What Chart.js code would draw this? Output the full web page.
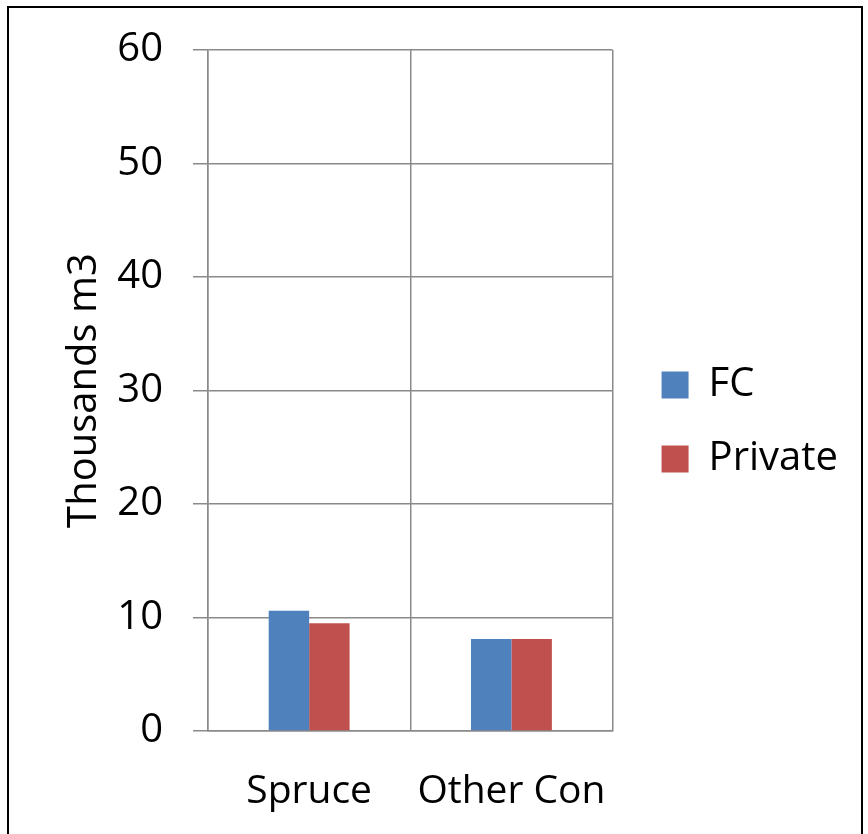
<!DOCTYPE html>
<html>
<head>
<meta charset="utf-8">
<script src="https://cdn.jsdelivr.net/npm/chart.js@4/dist/chart.umd.min.js"></script>
<style>
  html, body { margin: 0; padding: 0; background: #ffffff; overflow: hidden; }
  #frame {
    position: absolute; left: 7px; top: 6px;
    width: 852px; height: 828px;
    border: 2px solid #000000; border-bottom: none;
    background: #ffffff;
  }
  #chart { display: block; }
</style>
</head>
<body>
<div id="frame"><canvas id="chart" width="852" height="828"></canvas></div>
<script>
// Harvest volumes by species group and owner
const categories = ['Spruce', 'Other Con'];
const fcValues = [10.6, 8.1];
const privateValues = [9.5, 8.1];
const seriesNames = ['FC', 'Private'];
const yTicks = [0, 10, 20, 30, 40, 50, 60];
const yTitle = 'Thousands m3';

const FONT = "'Open Sans', 'Liberation Sans', sans-serif";
const GRID = '#8a8a8a';

// empty scales used only to reserve space around the plot area
const spacer = (position, size) => ({
  type: 'linear',
  position: position,
  display: true,
  grid: { display: false },
  border: { display: false },
  ticks: { display: false },
  afterFit: s => {
    if (position === 'top') { s.height = size; } else { s.width = size; }
  }
});

new Chart(document.getElementById('chart'), {
  type: 'bar',
  data: {
    labels: categories,
    datasets: [
      { label: seriesNames[0], data: fcValues, backgroundColor: '#4F81BD', borderWidth: 0 },
      { label: seriesNames[1], data: privateValues, backgroundColor: '#C0504D', borderWidth: 0 }
    ]
  },
  options: {
    responsive: false,
    animation: false,
    layout: { padding: { top: 0, bottom: 0, left: 0, right: 13 } },
    datasets: { bar: { categoryPercentage: 0.4, barPercentage: 1.0 } },
    plugins: {
      tooltip: { enabled: false },
      legend: {
        position: 'right',
        align: 'center',
        maxWidth: 260,
        labels: {
          boxWidth: 27,
          boxHeight: 27,
          padding: 34,
          color: '#000000',
          font: { family: FONT, size: 40 }
        }
      }
    },
    scales: {
      x: {
        grid: { display: true, offset: true, color: GRID, lineWidth: 1.5, drawTicks: false },
        border: { display: true, color: GRID, width: 1.5 },
        ticks: { color: '#000000', font: { family: FONT, size: 39 }, padding: 37, maxRotation: 0 },
        afterFit: s => { s.height = 105; }
      },
      y: {
        min: 0,
        max: 60,
        afterBuildTicks: s => { s.ticks = yTicks.map(v => ({ value: v })); },
        grid: { color: GRID, lineWidth: 1.5, tickLength: 15, drawTicks: true },
        border: { display: true, color: GRID, width: 1.5 },
        ticks: { color: '#000000', font: { family: FONT, size: 40 }, padding: 30 },
        title: {
          display: true,
          text: yTitle,
          color: '#000000',
          font: { family: FONT, size: 40 },
          padding: { top: 52, bottom: 0 }
        },
        afterFit: s => { s.width = 199; s.paddingTop = 24; s.paddingBottom = 24; }
      },
      topSpace: spacer('top', 42),
      rightSpace: spacer('right', 15)
    }
  }
});
</script>
</body>
</html>
